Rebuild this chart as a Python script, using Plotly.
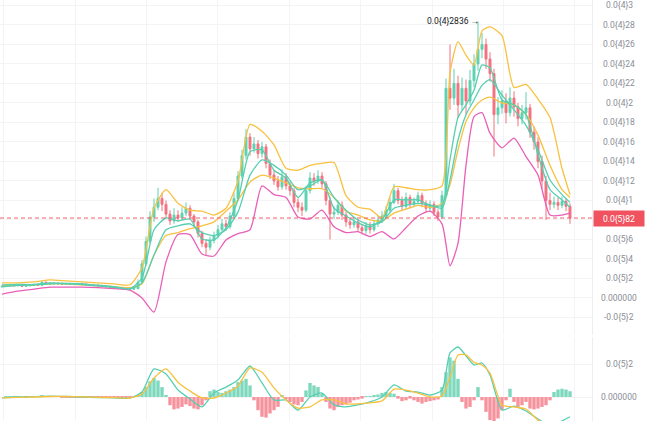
import plotly.graph_objects as go

# ---------------- data (prices in units of 1e-6) ----------------
candle_idx = list(range(143))

open_ = [
    1.15, 1.20, 1.25, 1.30, 1.25, 1.30, 1.20, 1.25, 1.30, 1.35,
    1.30, 1.60, 1.50, 1.45, 1.50, 1.45, 1.40, 1.45, 1.40, 1.40,
    1.45, 1.40, 1.35, 1.30, 1.30, 1.25, 1.20, 1.15, 1.10, 1.05,
    1.00, 0.95, 0.90, 0.90, 0.95, 1.60, 3.50, 5.80, 8.30, 9.30,
    10.2, 9.60, 8.60, 7.90, 8.50, 8.20, 8.70, 9.20, 8.40, 7.80,
    6.60, 5.60, 5.20, 5.90, 6.40, 7.00, 7.60, 7.30, 8.40, 10.2,
    12.5, 14.6, 16.5, 15.3, 15.8, 14.8, 15.5, 13.8, 12.6, 12.0,
    11.4, 12.4, 11.5, 11.0, 9.80, 9.30, 9.00, 11.0, 12.3, 12.0,
    12.5, 11.7, 10.0, 8.60, 8.80, 9.50, 8.50, 7.80, 7.50, 7.80,
    7.20, 6.90, 7.40, 7.00, 7.60, 8.00, 8.40, 9.00, 9.80, 11.0,
    10.0, 9.40, 10.3, 9.60, 9.90, 10.5, 9.70, 9.20, 9.60, 8.80,
    8.30, 10.5, 21.5, 20.5, 22.0, 19.8, 21.5, 20.2, 22.3, 24.0,
    25.5, 26.0, 24.5, 23.0, 18.8, 19.5, 20.2, 19.0, 20.5, 19.6,
    18.4, 19.0, 19.5, 17.0, 16.0, 14.0, 12.0, 10.0, 9.60, 9.80,
    9.50, 9.90, 9.40]

close = [
    1.20, 1.25, 1.30, 1.25, 1.30, 1.20, 1.25, 1.30, 1.35, 1.30,
    1.60, 1.50, 1.45, 1.50, 1.45, 1.40, 1.45, 1.40, 1.40, 1.45,
    1.40, 1.35, 1.30, 1.30, 1.25, 1.20, 1.15, 1.10, 1.05, 1.00,
    0.95, 0.90, 0.90, 0.95, 1.60, 3.50, 5.80, 8.30, 9.30, 10.2,
    9.60, 8.60, 7.90, 8.50, 8.20, 8.70, 9.20, 8.40, 7.80, 6.60,
    5.60, 5.20, 5.90, 6.40, 7.00, 7.60, 7.30, 8.40, 10.2, 12.5,
    14.6, 16.5, 15.3, 15.8, 14.8, 15.5, 13.8, 12.6, 12.0, 11.4,
    12.4, 11.5, 11.0, 9.80, 9.30, 9.00, 11.0, 12.3, 12.0, 12.5,
    11.7, 10.0, 8.60, 8.80, 9.50, 8.50, 7.80, 7.50, 7.80, 7.20,
    6.90, 7.40, 7.00, 7.60, 8.00, 8.40, 9.00, 9.80, 11.0, 10.0,
    9.40, 10.3, 9.60, 9.90, 10.5, 9.70, 9.20, 9.60, 8.80, 8.30,
    10.5, 21.5, 20.5, 22.0, 19.8, 21.5, 20.2, 22.3, 24.0, 25.5,
    26.0, 24.5, 23.0, 18.8, 19.5, 20.2, 19.0, 20.5, 19.6, 18.4,
    19.0, 19.5, 17.0, 16.0, 14.0, 12.0, 10.0, 9.60, 9.80, 9.50,
    9.90, 9.40, 8.20]

high = [
    1.30, 1.35, 1.40, 1.40, 1.40, 1.40, 1.35, 1.40, 1.45, 1.45,
    1.75, 1.70, 1.60, 1.60, 1.60, 1.55, 1.55, 1.55, 1.50, 1.55,
    1.55, 1.50, 1.45, 1.40, 1.40, 1.35, 1.30, 1.25, 1.20, 1.15,
    1.10, 1.05, 1.00, 1.05, 1.90, 3.90, 6.30, 8.90, 10.2, 11.3,
    10.8, 10.0, 9.00, 9.20, 9.00, 9.30, 9.80, 9.50, 8.60, 8.00,
    6.90, 6.00, 6.30, 6.80, 7.50, 8.10, 8.00, 8.80, 10.8, 13.0,
    15.2, 17.3, 16.9, 16.5, 16.2, 16.0, 15.8, 14.2, 13.1, 12.5,
    13.2, 12.8, 11.9, 11.3, 10.2, 9.80, 11.5, 12.9, 12.8, 13.1,
    12.9, 12.0, 10.4, 9.40, 10.0, 9.90, 8.80, 8.20, 8.30, 8.10,
    7.60, 7.80, 7.80, 8.00, 8.40, 8.90, 9.40, 10.3, 11.7, 11.3,
    10.4, 10.8, 10.6, 10.3, 10.9, 10.8, 10.0, 10.0, 9.90, 9.10,
    11.0, 22.5, 26.0, 23.5, 22.8, 22.6, 22.4, 23.4, 25.0, 28.36,
    27.2, 26.6, 25.2, 23.5, 20.6, 21.3, 21.0, 21.6, 21.2, 20.0,
    19.8, 21.1, 19.9, 17.6, 16.5, 14.6, 12.5, 10.8, 10.4, 10.3,
    10.4, 10.2, 9.70]

low = [
    1.10, 1.15, 1.20, 1.20, 1.20, 1.15, 1.15, 1.20, 1.25, 1.25,
    1.25, 1.45, 1.40, 1.40, 1.40, 1.35, 1.35, 1.35, 1.30, 1.35,
    1.35, 1.30, 1.25, 1.20, 1.20, 1.15, 1.10, 1.05, 1.00, 0.95,
    0.90, 0.85, 0.80, 0.85, 0.90, 1.50, 3.30, 5.60, 7.80, 9.00,
    8.90, 8.20, 7.50, 7.60, 7.80, 7.90, 8.40, 8.00, 7.30, 6.20,
    5.20, 4.40, 4.90, 5.60, 6.10, 6.80, 6.90, 7.10, 8.20, 10.0,
    12.2, 14.2, 14.6, 14.9, 14.3, 14.4, 13.3, 12.2, 11.6, 11.0,
    11.1, 11.1, 10.5, 9.30, 8.80, 8.40, 8.80, 10.7, 11.5, 11.7,
    11.2, 9.50, 6.00, 8.10, 8.50, 8.00, 7.30, 7.10, 7.20, 6.80,
    6.50, 6.60, 6.60, 6.80, 7.30, 7.70, 8.10, 8.70, 9.60, 9.60,
    9.00, 9.10, 9.20, 9.30, 9.60, 9.30, 8.80, 8.90, 8.40, 7.90,
    8.10, 10.3, 19.3, 19.8, 18.5, 19.2, 18.8, 19.8, 21.6, 23.3,
    24.6, 23.5, 22.2, 14.5, 17.8, 18.9, 17.9, 18.6, 18.6, 17.6,
    17.8, 18.3, 16.4, 15.2, 13.3, 11.2, 8.00, 9.00, 9.20, 9.00,
    9.20, 8.90, 7.60]

# indicator lines sampled at these candle indices
line_idx = [0, 4, 8, 12, 16, 20, 24, 28, 32,
            35, 38, 41, 44, 47, 50, 53, 56, 59, 62, 65, 68, 71, 74, 77, 80,
            83, 86, 89, 92, 95, 98, 101, 104, 107,
            110, 112, 114, 116, 118, 120, 122,
            125, 128, 131, 134, 137, 140, 142]

upper_band = [1.55, 1.55, 1.65, 1.85, 1.75, 1.65, 1.55, 1.45, 1.35,
              3.1, 9.2, 11.1, 9.7, 9.0, 8.9, 8.5, 9.2, 12.0, 17.8, 17.1, 15.7, 13.3, 13.1, 13.6, 13.8,
              13.9, 10.5, 9.3, 9.1, 8.2, 11.4, 11.3, 11.1, 11.1,
              11.5, 23.1, 26.3, 24.9, 23.9, 27.4, 27.8,
              26.9, 21.6, 21.9, 20.4, 18.5, 13.3, 10.6]

mid_band = [1.25, 1.3, 1.35, 1.45, 1.45, 1.35, 1.25, 1.15, 1.05,
            1.45, 4.4, 6.4, 6.7, 7.1, 7.4, 7.8, 8.9, 10.05, 11.9, 12.6, 12.3, 11.8, 11.3, 11.2, 11.2,
            10.3, 8.9, 8.5, 8.0, 7.9, 8.7, 9.1, 9.5, 9.3,
            9.7, 11.6, 15.2, 18.1, 19.5, 20.3, 20.6,
            20.0, 19.8, 18.8, 16.7, 13.6, 11.1, 10.3]

lower_band = [0.4, 0.7, 0.9, 1.1, 1.1, 1.1, 1.05, 0.95, 0.8,
              0.0, -1.45, 3.7, 6.5, 6.5, 4.5, 4.3, 5.95, 6.6, 7.0, 11.5, 10.6, 10.3, 8.3, 8.1, 9.0,
              7.3, 6.7, 6.8, 6.3, 6.8, 6.05, 7.2, 8.4, 8.9,
              7.6, 3.3, 5.6, 13.6, 18.6, 19.0, 16.9,
              15.4, 16.4, 14.5, 12.6, 8.5, 8.5, 8.7]

ma_fast = [1.33, 1.38, 1.38, 1.55, 1.5, 1.45, 1.3, 1.15, 0.95,
           2.05, 7.0, 8.2, 7.9, 8.1, 6.05, 5.95, 7.2, 10.05, 15.0, 15.2, 13.1, 12.3, 10.3, 11.8, 12.1,
           9.2, 8.4, 7.7, 7.3, 8.0, 10.05, 10.05, 10.05, 9.5,
           9.5, 14.2, 18.5, 19.8, 21.3, 23.9, 23.6,
           20.3, 19.8, 18.8, 14.7, 11.1, 10.05, 9.3]

ma_slow = [1.13, 1.28, 1.33, 1.45, 1.45, 1.38, 1.23, 1.08, 0.92,
           1.55, 4.4, 7.0, 7.4, 7.6, 6.7, 6.4, 7.0, 8.8, 12.6, 14.15, 13.6, 12.6, 11.1, 11.5, 12.1,
           10.3, 9.0, 8.0, 7.5, 7.8, 9.2, 9.5, 9.7, 9.5,
           9.2, 12.1, 16.2, 18.8, 20.3, 21.8, 22.4,
           20.8, 19.3, 17.7, 15.2, 12.1, 10.6, 9.8]

macd_hist = [
    0.0, 0.01, 0.02, 0.02, 0.01, 0.0, -0.01, 0.0, 0.02, 0.03,
    0.08, 0.06, 0.04, 0.02, 0.0, -0.02, -0.01, -0.02, -0.02, -0.01,
    -0.02, -0.03, -0.03, -0.02, -0.03, -0.03, -0.02, -0.03, -0.03, -0.02,
    -0.02, -0.02, -0.01, 0.0,
    0.1, 0.3, 0.6, 0.95, 1.15, 1.0, 0.6, 0.1, -0.5, -0.75,
    -0.7, -0.6, -0.45, -0.55, -0.7, -0.75, -0.5, -0.2, 0.35, 0.45,
    0.3, 0.25, 0.35, 0.45, 0.6, 0.9, 1.0, 1.1, 0.7, -0.2,
    -0.8, -1.2, -1.25, -1.0, -0.8, -0.6, 0.1, -0.15, -0.3, -0.45,
    -0.5, -0.3, 0.4, 0.85, 0.7, 0.6, 0.2, -0.3, -0.7, -0.8,
    -0.6, -0.5, -0.45, -0.35, -0.2, -0.15, -0.1, 0.05, 0.05, 0.1,
    0.15, 0.25, 0.3, 0.25, 0.2, -0.1, -0.25, -0.2, -0.1, -0.2,
    -0.3, -0.4, -0.3, -0.25, -0.2, -0.15, 0.6, 1.5, 2.4, 2.2,
    1.1, -0.3, -0.7, -0.6, -0.2, 0.6, -0.2, -0.9, -1.4, -1.5,
    -1.3, -0.8, -0.2, 0.5, -0.3, -0.6, -0.5, -0.3, -0.7, -0.75,
    -0.7, -0.6, -0.5, -0.2, 0.3, 0.45, 0.5, 0.45, 0.35]

macd_line = [-0.05, 0.0, 0.02, 0.05, 0.03, 0.0, -0.03, -0.05, -0.06,
             0.3, 1.7, 1.4, 0.42, -0.12, -0.6, 0.24, 0.6, 1.03, 1.88, 0.85, -0.18, -0.18, -0.79, 0.0, 0.24,
             -0.48, -0.6, -0.48, -0.3, 0.0, 0.73, 0.36, 0.3, 0.12,
             0.42, 2.67, 3.03, 2.5, 1.94, 2.06, 1.33,
             -0.79, -0.55, -0.85, -1.33, -1.7, -1.45, -1.2]

signal_line = [-0.05, -0.02, 0.0, 0.03, 0.03, 0.01, -0.02, -0.04, -0.06,
               0.18, 1.15, 1.7, 0.9, 0.36, -0.06, -0.06, 0.24, 0.67, 1.76, 1.5, 0.55, -0.18, -0.67, -0.6, -0.18,
               -0.18, -0.42, -0.42, -0.36, -0.24, 0.48, 0.42, 0.24, 0.0,
               0.06, 1.2, 2.55, 2.55, 2.1, 1.94, 1.45,
               -0.48, -0.6, -0.73, -1.4, -1.75, -2.0, -2.0]

price_ticks = [30, 28, 26, 24, 22, 20, 18, 16, 14, 12, 10, 8, 6, 4, 2, 0, -2]
price_tick_text = ["0.0{4}3", "0.0{4}28", "0.0{4}26", "0.0{4}24", "0.0{4}22", "0.0{4}2",
                   "0.0{4}18", "0.0{4}16", "0.0{4}14", "0.0{4}12", "0.0{4}1", "",
                   "0.0{5}6", "0.0{5}4", "0.0{5}2", "0.000000", "-0.0{5}2"]
macd_ticks = [2, 0]
macd_tick_text = ["0.0{5}2", "0.000000"]

last_price = 8.2
last_price_text = "0.0{5}82"
high_idx = 119
high_value = 28.36
high_text = "0.0{4}2836 →"

# ---------------- styling ----------------
UP = "#5FD1B1"
DOWN = "#F2737F"
TEAL = "#55CFB0"
YELLOW = "#F8C13F"
PINK = "#EA5FB8"
GRID = "#F4F4F6"
TICK = "#8A8D96"
FONT = "Roboto"
LABEL_SIZE = 8.5
LABEL_X = 619 / 592   # centre of the price-scale labels, in plot-paper units

grid_x = [0.4, 18.25, 36.1, 53.95, 71.8, 89.65, 107.5, 125.35, 143.2]

fig = go.Figure()

fig.add_trace(go.Candlestick(
    x=candle_idx, open=open_, high=high, low=low, close=close,
    increasing=dict(line=dict(color=UP, width=1), fillcolor=UP),
    decreasing=dict(line=dict(color=DOWN, width=1), fillcolor=DOWN),
    whiskerwidth=0, xaxis="x", yaxis="y", hoverinfo="skip"))

for vals, col in [(upper_band, YELLOW), (mid_band, YELLOW), (lower_band, PINK),
                  (ma_slow, TEAL), (ma_fast, TEAL)]:
    fig.add_trace(go.Scatter(x=line_idx, y=vals, mode="lines",
                             line=dict(color=col, width=1.3, shape="spline", smoothing=0.6),
                             xaxis="x", yaxis="y", hoverinfo="skip"))

hist_colors = ["#7ED8BE" if v >= 0 else "#F6939D" for v in macd_hist]
fig.add_trace(go.Bar(x=candle_idx, y=macd_hist, marker=dict(color=hist_colors, line=dict(width=0)),
                     xaxis="x2", yaxis="y2", hoverinfo="skip"))
fig.add_trace(go.Scatter(x=line_idx, y=macd_line, mode="lines",
                         line=dict(color=TEAL, width=1.3, shape="spline", smoothing=0.6),
                         xaxis="x2", yaxis="y2", hoverinfo="skip"))
fig.add_trace(go.Scatter(x=line_idx, y=signal_line, mode="lines",
                         line=dict(color=YELLOW, width=1.3, shape="spline", smoothing=0.6),
                         xaxis="x2", yaxis="y2", hoverinfo="skip"))

xcommon = dict(range=[-0.5, 147.5], showticklabels=False, tickvals=grid_x,
               showgrid=True, gridcolor=GRID, gridwidth=1, zeroline=False,
               showline=False, ticks="", fixedrange=True)
ycommon = dict(side="right", showticklabels=False, showgrid=True, gridcolor=GRID,
               zeroline=False, ticks="", showline=True, linecolor="#EEEEF2",
               linewidth=1, fixedrange=True)

fig.update_layout(
    width=650, height=421,
    margin=dict(l=0, r=58, t=0, b=0),
    paper_bgcolor="white", plot_bgcolor="white",
    showlegend=False, hovermode=False, bargap=0.15,
    font=dict(family=FONT, size=LABEL_SIZE, color=TICK),
    xaxis=dict(domain=[0, 1], anchor="y", rangeslider=dict(visible=False), **xcommon),
    xaxis2=dict(domain=[0, 1], anchor="y2", matches="x", **xcommon),
    yaxis=dict(domain=[0.2043, 1], range=[-3.80, 30.56], tickvals=price_ticks, **ycommon),
    yaxis2=dict(domain=[0, 0.1995], range=[-1.455, 3.636], tickvals=macd_ticks, **ycommon),
)

# price-scale labels (centred, like the reference)
for v, t in zip(price_ticks, price_tick_text):
    if t:
        fig.add_annotation(xref="paper", yref="y", x=LABEL_X, y=v, xanchor="center",
                           yanchor="middle", text=t, showarrow=False,
                           font=dict(family=FONT, size=LABEL_SIZE, color=TICK))
for v, t in zip(macd_ticks, macd_tick_text):
    fig.add_annotation(xref="paper", yref="y2", x=LABEL_X, y=v, xanchor="center",
                       yanchor="middle", text=t, showarrow=False,
                       font=dict(family=FONT, size=LABEL_SIZE, color=TICK))

fig.add_shape(type="line", xref="paper", yref="y", x0=0, x1=1, y0=last_price, y1=last_price,
              line=dict(color="#F0606E", width=1, dash="4px,3px"))

fig.add_annotation(xref="paper", yref="y", x=1, y=last_price, xanchor="left", yanchor="middle",
                   xshift=1, text=last_price_text, showarrow=False,
                   font=dict(family=FONT, size=LABEL_SIZE, color="white"),
                   bgcolor="#F0535F", width=50, height=15, borderpad=0)

fig.add_annotation(xref="x", yref="y", x=high_idx, y=high_value, xanchor="right", yanchor="middle",
                   xshift=3, text=high_text, showarrow=False,
                   font=dict(family=FONT, size=LABEL_SIZE, color="#131722"))

fig.write_html("out.html", config={"displayModeBar": False},
               post_script="document.body.style.margin='0px';document.body.style.overflow='hidden';")
